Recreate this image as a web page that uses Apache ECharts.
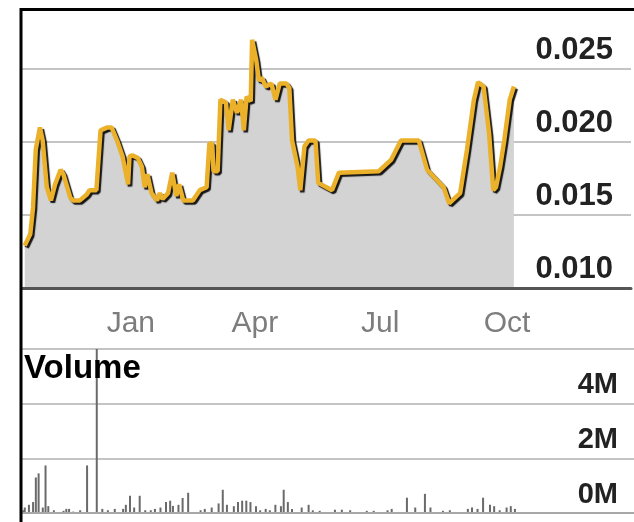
<!DOCTYPE html>
<html><head><meta charset="utf-8">
<script src="https://cdn.jsdelivr.net/npm/echarts@6/dist/echarts.min.js"></script>
<style>html,body{margin:0;padding:0;background:#fff}#c{width:634px;height:522px}</style>
</head><body><div id="c"></div>
<script>
// ---- data ----
const priceDates = ['2013-10-16','2013-10-20','2013-10-22','2013-10-24','2013-10-27','2013-10-29','2013-11-01','2013-11-04','2013-11-07','2013-11-11','2013-11-13','2013-11-18','2013-11-20','2013-11-25','2013-11-30','2013-12-02','2013-12-07','2013-12-10','2013-12-15','2013-12-18','2013-12-22','2013-12-26','2013-12-30','2013-12-31','2014-01-02','2014-01-06','2014-01-09','2014-01-11','2014-01-13','2014-01-16','2014-01-20','2014-01-22','2014-01-24','2014-01-28','2014-01-31','2014-02-03','2014-02-05','2014-02-08','2014-02-15','2014-02-20','2014-02-25','2014-02-26','2014-02-27','2014-03-01','2014-03-02','2014-03-05','2014-03-07','2014-03-11','2014-03-13','2014-03-16','2014-03-19','2014-03-22','2014-03-24','2014-03-26','2014-03-29','2014-03-30','2014-04-02','2014-04-04','2014-04-06','2014-04-09','2014-04-13','2014-04-16','2014-04-19','2014-04-24','2014-04-26','2014-04-28','2014-05-02','2014-05-04','2014-05-07','2014-05-10','2014-05-15','2014-05-17','2014-05-27','2014-06-01','2014-06-30','2014-07-09','2014-07-16','2014-07-29','2014-08-04','2014-08-16','2014-08-20','2014-08-28','2014-09-02','2014-09-07','2014-09-10','2014-09-14','2014-09-18','2014-09-21','2014-09-23','2014-09-26','2014-09-29','2014-10-03','2014-10-06'];
const priceValues = [0.0129,0.0137,0.0155,0.0195,0.0210,0.0201,0.0169,0.0160,0.0171,0.0181,0.0178,0.0162,0.0160,0.0160,0.0164,0.0167,0.0167,0.0208,0.0210,0.0210,0.0201,0.0190,0.0171,0.0190,0.0191,0.0189,0.0183,0.0169,0.0178,0.0165,0.0160,0.0165,0.0161,0.0165,0.0179,0.0163,0.0171,0.0160,0.0160,0.0167,0.0169,0.0169,0.0199,0.0199,0.0180,0.0180,0.0229,0.0227,0.0208,0.0229,0.0220,0.0229,0.0208,0.0231,0.0228,0.0270,0.0256,0.0242,0.0244,0.0238,0.0240,0.0229,0.0240,0.0240,0.0237,0.0201,0.0183,0.0167,0.0197,0.0201,0.0201,0.0172,0.0167,0.0179,0.0180,0.0188,0.0201,0.0201,0.0181,0.0169,0.0158,0.0165,0.0195,0.0229,0.0241,0.0238,0.0206,0.0167,0.0169,0.0183,0.0201,0.0229,0.0238];
const volumeDates = ['2013-10-15','2013-10-16','2013-10-19','2013-10-22','2013-10-24','2013-10-26','2013-10-29','2013-10-31','2013-11-02','2013-11-06','2013-11-13','2013-11-15','2013-11-17','2013-11-20','2013-11-25','2013-11-30','2013-12-07','2013-12-11','2013-12-15','2013-12-20','2013-12-26','2013-12-28','2013-12-31','2014-01-03','2014-01-07','2014-01-11','2014-01-15','2014-01-18','2014-01-22','2014-01-26','2014-01-29','2014-01-31','2014-02-04','2014-02-07','2014-02-11','2014-02-20','2014-02-23','2014-02-28','2014-03-05','2014-03-08','2014-03-11','2014-03-16','2014-03-19','2014-03-22','2014-03-25','2014-03-28','2014-04-01','2014-04-04','2014-04-08','2014-04-11','2014-04-15','2014-04-19','2014-04-21','2014-04-24','2014-04-27','2014-05-04','2014-05-09','2014-05-12','2014-05-17','2014-05-28','2014-06-02','2014-06-08','2014-06-20','2014-06-25','2014-07-05','2014-07-08','2014-07-19','2014-07-25','2014-08-01','2014-08-05','2014-08-14','2014-08-19','2014-09-01','2014-09-04','2014-09-08','2014-09-12','2014-09-17','2014-09-20','2014-09-24','2014-09-29','2014-10-02','2014-10-05'];
const volumeValues = [0.10,0.20,0.30,0.40,1.30,1.45,0.20,1.74,0.25,0.10,0.08,0.15,0.15,0.05,0.10,1.74,7.00,0.15,0.10,0.15,0.15,0.30,0.63,0.20,0.63,0.10,0.10,0.15,0.20,0.40,0.45,0.26,0.30,0.55,0.74,0.10,0.15,0.20,0.35,0.85,0.30,0.25,0.40,0.45,0.45,0.40,0.25,0.10,0.15,0.10,0.30,0.25,0.85,0.40,0.15,0.20,0.30,0.10,0.08,0.12,0.12,0.10,0.08,0.08,0.10,0.15,0.56,0.20,0.70,0.20,0.08,0.10,0.15,0.20,0.15,0.56,0.30,0.25,0.10,0.20,0.25,0.15];
const monthLabels = ['Jan','Feb','Mar','Apr','May','Jun','Jul','Aug','Sep','Oct','Nov','Dec'];
const labelledMonths = [0,3,6,9];
const priceTicks = [0.010,0.015,0.020,0.025];
const volumeTicks = [0,2,4];
const axisStart = '2013-10-14';
const axisEnd = '2014-12-30';

const DAY = 86400000;
const xMin = Date.parse(axisStart), xMax = Date.parse(axisEnd);
const priceData = priceDates.map((d,i)=>[Date.parse(d), priceValues[i]]);
const volumeData = volumeDates.map((d,i)=>[Date.parse(d), volumeValues[i]]);
const FONT = '"Liberation Sans", Arial, sans-serif';
// price grid spans y=9..288 with 73px per 0.005 step
const priceMax = 0.010 + (279/73)*0.005;

const chart = echarts.init(document.getElementById('c'), null, {renderer:'canvas'});
chart.setOption({
  animation:false,
  backgroundColor:'#fff',
  title:{text:'Volume', left:24, top:352, padding:0,
    textStyle:{fontSize:33, fontWeight:'bold', color:'#000', fontFamily:FONT}},
  grid:[
    {left:22, right:0, top:9, bottom:234},
    {left:22, right:0, top:349, bottom:9}
  ],
  xAxis:[
    {gridIndex:0, type:'value', min:xMin, max:xMax, interval:DAY, z:5,
     axisLine:{show:true, lineStyle:{color:'#555', width:3}},
     axisTick:{show:false}, splitLine:{show:false},
     axisLabel:{margin:21, fontSize:30, color:'#7d7d7d', fontFamily:FONT,
       formatter:function(v){const d=new Date(v); return (d.getUTCDate()===1 && labelledMonths.indexOf(d.getUTCMonth())>=0)? monthLabels[d.getUTCMonth()] : '';}}},
    {gridIndex:1, type:'value', min:xMin, max:xMax, z:5,
     axisLine:{show:true, lineStyle:{color:'#a8a8a8', width:2}},
     axisTick:{show:false}, splitLine:{show:false}, axisLabel:{show:false}}
  ],
  yAxis:[
    {gridIndex:0, type:'value', position:'right', min:0.01, max:priceMax, interval:0.005,
     axisLine:{show:false}, axisTick:{show:false},
     splitLine:{lineStyle:{color:'#c4c4c4', width:2}},
     axisLabel:{inside:true, margin:18, fontSize:31, fontWeight:'bold', color:'#222', fontFamily:FONT,
       verticalAlign:'bottom', lineHeight:31, padding:[0,0,3,0],
       formatter:function(v){const t=priceTicks.find(p=>Math.abs(p-v)<1e-9); return t===undefined?'':t.toFixed(3);}}},
    {gridIndex:1, type:'value', position:'right', min:0, max:6, interval:2,
     axisLine:{show:false}, axisTick:{show:false},
     splitLine:{lineStyle:{color:'#c4c4c4', width:2}},
     axisLabel:{inside:true, margin:16, fontSize:29, fontWeight:'bold', color:'#222', fontFamily:FONT,
       verticalAlign:'bottom', lineHeight:29, padding:[0,0,4,0],
       formatter:function(v){return volumeTicks.indexOf(v)>=0 ? v+'M' : '';}}}
  ],
  series:[
    {type:'line', xAxisIndex:0, yAxisIndex:0, data:priceData, symbol:'none', z:3,
     lineStyle:{color:'#EBB12B', width:4.5, shadowColor:'rgba(0,0,0,0.9)', shadowBlur:1, shadowOffsetX:2, shadowOffsetY:2},
     areaStyle:{color:'#d3d3d3', opacity:1, origin:'start'}},
    {type:'bar', xAxisIndex:1, yAxisIndex:1, data:volumeData, barWidth:2, z:3,
     itemStyle:{color:'#6a6a6a'}}
  ],
  graphic:[
    {type:'line', z:100, shape:{x1:20, y1:9.5, x2:634, y2:9.5}, style:{stroke:'#000', lineWidth:3}},
    {type:'line', z:100, shape:{x1:21, y1:8, x2:21, y2:522}, style:{stroke:'#000', lineWidth:3}}
  ]
});
</script></body></html>
